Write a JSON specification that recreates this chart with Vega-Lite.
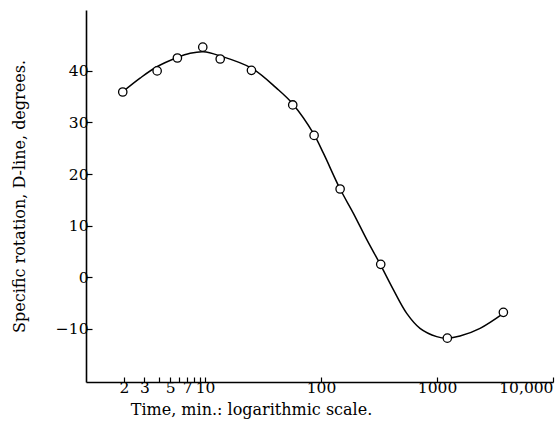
{
  "$schema": "https://vega.github.io/schema/vega-lite/v6.json",
  "width": 467,
  "height": 372,
  "autosize": {"type": "none"},
  "padding": {"left": 86, "top": 10, "right": 4, "bottom": 53},
  "background": "white",
  "config": {
    "view": {"stroke": null},
    "font": "DejaVu Serif",
    "axis": {
      "grid": false,
      "domainColor": "black",
      "domainWidth": 1.6,
      "tickColor": "black",
      "tickWidth": 1.2,
      "labelColor": "black",
      "titleColor": "black",
      "labelFont": "DejaVu Serif",
      "titleFont": "DejaVu Serif",
      "labelFontSize": 15.5,
      "titleFontSize": 16,
      "titleFontWeight": "normal"
    }
  },
  "datasets": {
    "obs": [
      {"t": 1.95, "rot": 35.9},
      {"t": 3.86, "rot": 40.0},
      {"t": 5.77, "rot": 42.5},
      {"t": 9.55, "rot": 44.6},
      {"t": 13.5, "rot": 42.3},
      {"t": 25.1, "rot": 40.1},
      {"t": 57.0, "rot": 33.4},
      {"t": 87.1, "rot": 27.5},
      {"t": 146, "rot": 17.1},
      {"t": 327, "rot": 2.5},
      {"t": 1227, "rot": -11.8},
      {"t": 3733, "rot": -6.8}
    ],
    "curve": [
      {"t": 1.96, "rot": 36.0},
      {"t": 2.75, "rot": 38.6},
      {"t": 3.84, "rot": 40.8},
      {"t": 5.77, "rot": 42.6},
      {"t": 7.43, "rot": 43.4},
      {"t": 9.67, "rot": 43.7},
      {"t": 13.5, "rot": 42.9},
      {"t": 25.3, "rot": 40.5},
      {"t": 41.5, "rot": 36.6},
      {"t": 57, "rot": 33.6},
      {"t": 85.9, "rot": 27.9},
      {"t": 105, "rot": 24.0},
      {"t": 146, "rot": 17.1},
      {"t": 190, "rot": 12.4},
      {"t": 248, "rot": 7.3},
      {"t": 324, "rot": 2.5},
      {"t": 420, "rot": -2.4},
      {"t": 548, "rot": -7.0},
      {"t": 713, "rot": -9.9},
      {"t": 994, "rot": -11.5},
      {"t": 1227, "rot": -11.8},
      {"t": 1578, "rot": -11.4},
      {"t": 2350, "rot": -9.9},
      {"t": 3733, "rot": -7.0}
    ]
  },
  "layer": [
    {
      "data": {"name": "curve"},
      "mark": {"type": "line", "color": "black", "strokeWidth": 1.5, "interpolate": "catmull-rom"},
      "encoding": {
        "x": {
          "field": "t", "type": "quantitative",
          "scale": {"type": "log", "domain": [0.94, 10000], "nice": false},
          "axis": {
            "values": [2, 3, 4, 5, 6, 7, 8, 9, 10, 100, 1000, 10000],
            "labelExpr": "(datum.value == 4 || datum.value == 6 || datum.value == 8 || datum.value == 9) ? '' : (datum.value == 10000 ? '10,000' : format(datum.value, 'd'))",
            "labelAlign": {"condition": {"test": "datum.value == 10000", "value": "right"}, "value": "center"},
            "labelDx": {"condition": {"test": "datum.value == 10000", "value": 4}, "value": 0},
            "tickSize": -5,
            "labelPadding": 3,
            "labelFlush": false,
            "labelOverlap": false,
            "title": "Time, min.:  logarithmic scale.",
            "titleX": 165,
            "titleY": 27,
            "titleAnchor": null,
            "titleAlign": "center",
            "titleBaseline": "middle"
          }
        },
        "y": {
          "field": "rot", "type": "quantitative",
          "scale": {"domain": [-20.3, 51.8], "nice": false, "zero": false},
          "axis": {
            "values": [-10, 0, 10, 20, 30, 40],
            "tickSize": -6,
            "labelPadding": 4,
            "title": "Specific rotation, D-line, degrees.",
            "titleX": -67,
            "titleY": 186,
            "titleAngle": -90,
            "titleAlign": "center",
            "titleBaseline": "middle"
          }
        }
      }
    },
    {
      "data": {"name": "obs"},
      "mark": {"type": "point", "shape": "circle", "filled": false, "fill": "white", "stroke": "black", "strokeWidth": 1.3, "size": 70, "opacity": 1},
      "encoding": {
        "x": {"field": "t", "type": "quantitative"},
        "y": {"field": "rot", "type": "quantitative"}
      }
    }
  ]
}
